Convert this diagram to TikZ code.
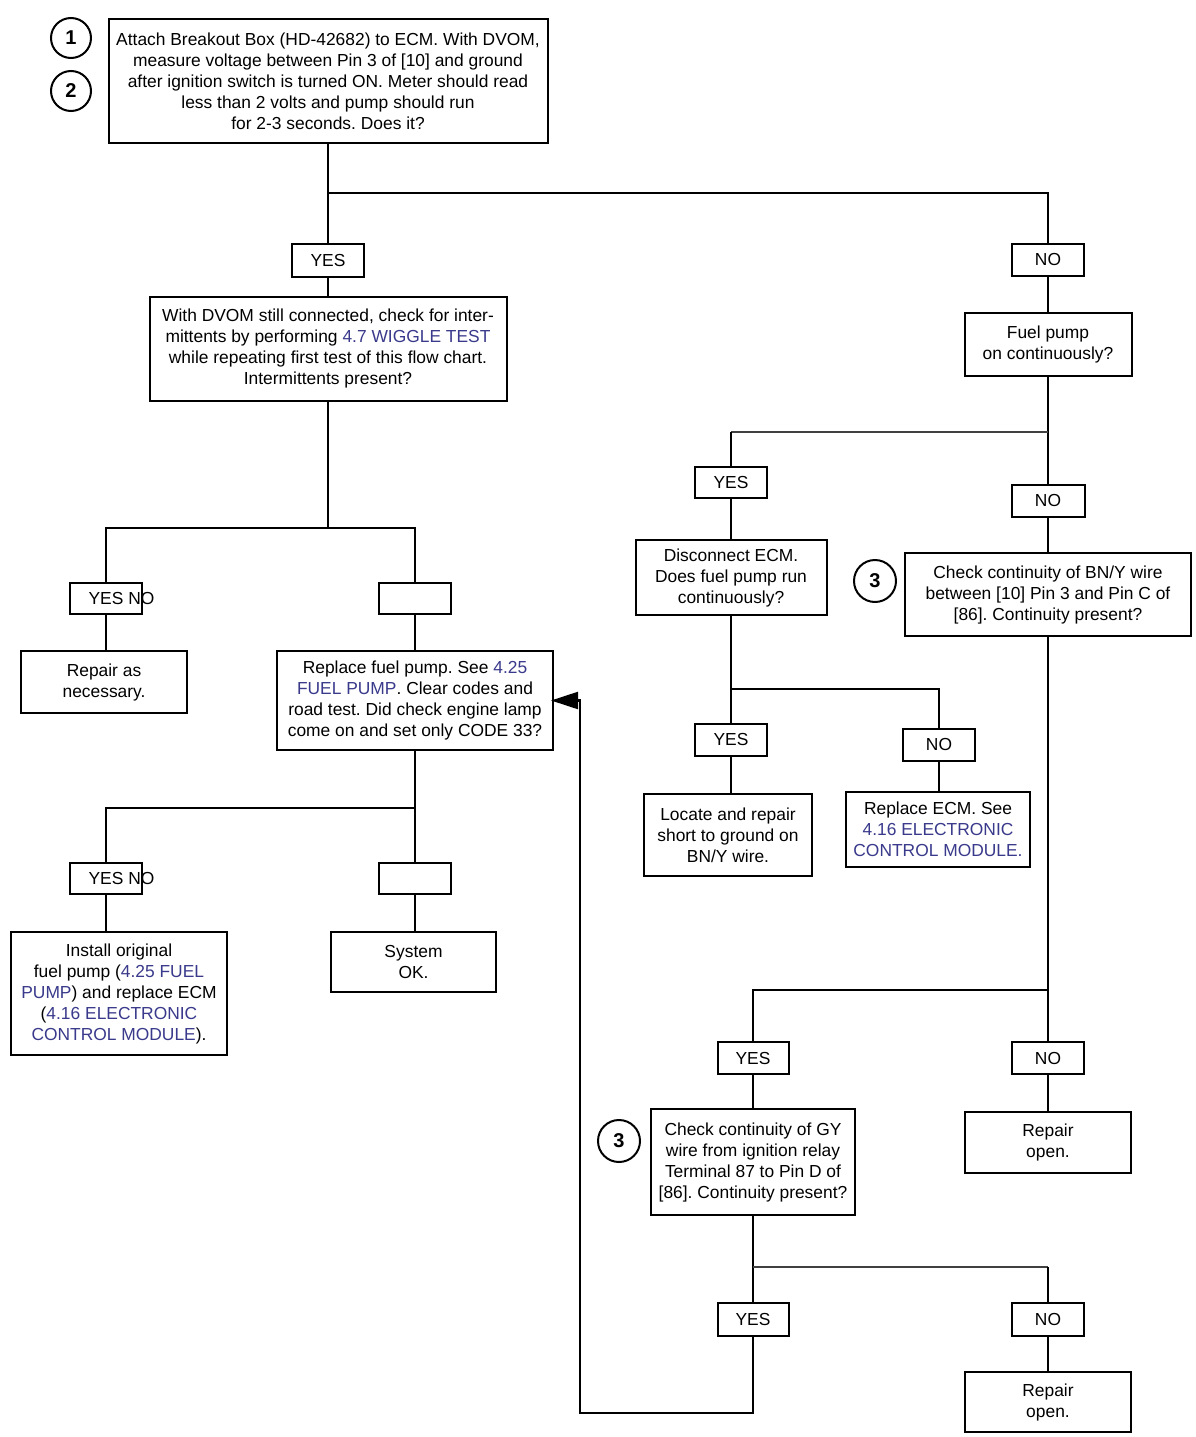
\documentclass[tikz,border=0pt]{standalone}
\usepackage{fontspec}
\setmainfont{Liberation Sans}
\usetikzlibrary{arrows.meta}
\definecolor{linkblue}{RGB}{58,58,140}
\newcommand{\lk}[1]{\textcolor{linkblue}{#1}}
\frenchspacing
\begin{document}
\begin{tikzpicture}[x=1pt,y=-1pt,
  every node/.style={font=\fontsize{17.4}{21}\selectfont},
  box/.style={draw, line width=2pt, inner sep=0pt, align=center, fill=white},
  tag/.style={box, minimum width=72pt, minimum height=32pt},
  num/.style={draw, circle, line width=2pt, minimum size=40pt, inner sep=0pt, font=\fontsize{20}{24}\selectfont\bfseries},
  wire/.style={line width=2.2pt},
  thinwire/.style={line width=1.3pt, black!75},
  line join=miter]
\useasboundingbox (0,0) rectangle (1195,1437);

% ---------- left column ----------
\node[num] (c1) at (71,38) {1};
\node[num] (c2) at (71,91) {2};
\node[box, minimum width=439pt, minimum height=124pt] (top) at (328,81)
  {Attach Breakout Box (HD-42682) to ECM. With DVOM,\\ measure voltage between Pin 3 of [10] and ground\\ after ignition switch is turned ON. Meter should read\\ less than 2 volts and pump should run\\ for 2-3 seconds. Does it?};
\node[tag, minimum height=33pt] (yes1) at (328,260.5) {YES};
\node[tag] (no1) at (1048,260) {NO};
\node[box, minimum width=357pt, minimum height=104pt] (wig) at (328,348.5)
  {With DVOM still connected, check for inter-\\mittents by performing \lk{4.7 WIGGLE TEST}\\while repeating first test of this flow chart.\\Intermittents present?};
\node[tag, minimum height=31pt, label={[xshift=15.5pt]center:YES NO}] (yn1) at (106,598.5) {};
\node[tag, minimum height=31pt] (e1) at (415,598.5) {};
\node[box, minimum width=166pt, minimum height=62pt] (rep) at (104,682) {Repair as\\necessary.};
\node[box, minimum width=276pt, minimum height=99pt] (fp) at (415,700.5)
  {Replace fuel pump. See \lk{4.25}\\\lk{FUEL PUMP}. Clear codes and\\road test. Did check engine lamp\\come on and set only CODE 33?};
\node[tag, minimum height=31pt, label={[xshift=15.5pt]center:YES NO}] (yn2) at (106,878.5) {};
\node[tag, minimum height=31pt] (e2) at (415,878.5) {};
\node[box, minimum width=216pt, minimum height=123pt] (inst) at (119,993.5)
  {Install original\\fuel pump (\lk{4.25 FUEL}\\\lk{PUMP}) and replace ECM\\(\lk{4.16 ELECTRONIC}\\\lk{CONTROL MODULE}).};
\node[box, minimum width=165pt, minimum height=60pt] (ok) at (413.5,962) {System\\OK.};

% ---------- right part ----------
\node[box, minimum width=167pt, minimum height=63pt] (fpc) at (1048,344.5) {Fuel pump\\on continuously?};
\node[tag, minimum height=31pt] (yes2) at (731,482.5) {YES};
\node[tag, minimum width=73pt] (no2) at (1048,501) {NO};
\node[box, minimum width=191pt, minimum height=75pt] (disc) at (731,577.5)
  {Disconnect ECM.\\Does fuel pump run\\continuously?};
\node[num, minimum size=42pt] (c3a) at (875,581) {3};
\node[box, minimum width=286pt, minimum height=83pt] (bny) at (1048,594.5)
  {Check continuity of BN/Y wire\\between [10] Pin 3 and Pin C of\\{}[86]. Continuity present?};
\node[tag] (yes3) at (731,740) {YES};
\node[tag] (no3) at (939,745) {NO};
\node[box, minimum width=168pt, minimum height=82pt] (loc) at (728,835)
  {Locate and repair\\short to ground on\\BN/Y wire.};
\node[box, minimum width=184pt, minimum height=75pt] (recm) at (938,829.5)
  {Replace ECM. See\\\lk{4.16 ELECTRONIC}\\\lk{CONTROL MODULE.}};
\node[tag, minimum width=71pt] (yes4) at (753,1058) {YES};
\node[tag] (no4) at (1048,1058) {NO};
\node[box, minimum width=204pt, minimum height=106pt] (gy) at (753,1162)
  {Check continuity of GY\\wire from ignition relay\\Terminal 87 to Pin D of\\{}[86]. Continuity present?};
\node[num, minimum size=42pt] (c3b) at (619,1141) {3};
\node[box, minimum width=166pt, minimum height=61pt] (op1) at (1048,1142.5) {Repair\\open.};
\node[tag, minimum width=71pt, minimum height=33pt] (yes5) at (753,1319.5) {YES};
\node[tag, minimum height=33pt] (no5) at (1048,1319.5) {NO};
\node[box, minimum width=166pt, minimum height=60pt] (op2) at (1048,1402) {Repair\\open.};

% ---------- junctions ----------
\coordinate (j1) at (328,193);
\coordinate (j2) at (328,528);
\coordinate (j3) at (415,808);
\coordinate (j4) at (1048,432);
\coordinate (j5) at (731,689);
\coordinate (j6) at (1048,990);
\coordinate (j7) at (753,1267);
\coordinate (lp1) at (753,1413);
\coordinate (lp2) at (580,1413);

% ---------- connectors ----------
\draw[wire] (top.south) -- (yes1.north);
\draw[wire] (j1) -| (no1.north);
\draw[wire] (yes1.south) -- (wig.north);
\draw[wire] (wig.south) -- (j2);
\draw[wire] (yn1.north) |- (j2) -| (e1.north);
\draw[wire] (yn1.south) -- (yn1.south |- rep.north);
\draw[wire] (e1.south) -- (fp.north);
\draw[wire] (fp.south) -- (j3);
\draw[wire] (yn2.north) |- (j3) -- (e2.north);
\draw[wire] (yn2.south) -- (yn2.south |- inst.north);
\draw[wire] (e2.south) -- (e2.south |- ok.north);

\draw[wire] (no1.south) -- (fpc.north);
\draw[wire] (fpc.south) -- (no2.north);
\draw[thinwire] (j4) -- (j4 -| yes2.north);
\draw[wire] (j4 -| yes2.north) -- (yes2.north);
\draw[wire] (yes2.south) -- (disc.north);
\draw[wire] (disc.south) -- (yes3.north);
\draw[wire] (j5) -| (no3.north);
\draw[wire] (yes3.south) -- (yes3.south |- loc.north);
\draw[wire] (no3.south) -- (no3.south |- recm.north);
\draw[wire] (no2.south) -- (bny.north);
\draw[wire] (bny.south) -- (no4.north);
\draw[wire] (j6) -| (yes4.north);
\draw[wire] (no4.south) -- (op1.north);
\draw[wire] (yes4.south) -- (gy.north);
\draw[wire] (gy.south) -- (yes5.north);
\draw[thinwire] (j7) -- (j7 -| no5.north);
\draw[wire] (j7 -| no5.north) -- (no5.north);
\draw[wire] (no5.south) -- (op2.north);
\draw[wire, -{Triangle[length=27pt,width=17pt]}] (yes5.south) -- (lp1) -- (lp2) |- ([xshift=-3pt]fp.east);
\end{tikzpicture}
\end{document}
